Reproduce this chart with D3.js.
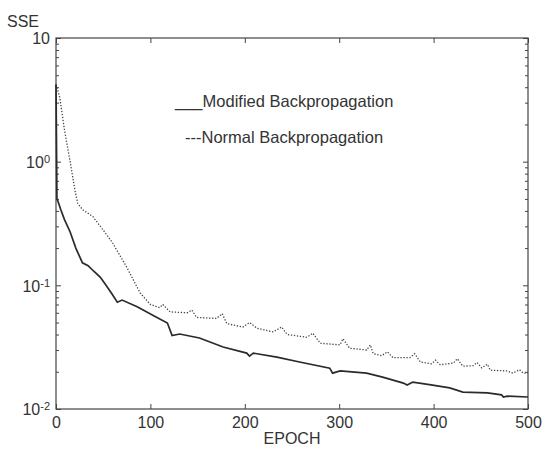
<!DOCTYPE html>
<html>
<head>
<meta charset="UTF-8">
<title>SSE vs EPOCH</title>
<script src="https://d3js.org/d3.v7.min.js"></script>
<style>
    body { margin: 0; background: #fff; }
    svg { display: block; font-family: Arial, "Liberation Sans", sans-serif; }
    text { fill: #333; }
</style>
</head>
<body>
<div id="chart"></div>
<script>
// datos
const modEpoch = [0, 1, 2, 5, 9, 15, 21, 28, 34, 40, 47, 53, 59, 65, 70, 86, 103, 118, 123, 131, 152, 177, 202, 205, 209, 234, 258, 290, 293, 301, 329, 346, 368, 372, 378, 399, 417, 431, 457, 472, 474, 478, 500];
const modSSE = [4.2, 0.5, 0.48, 0.41, 0.34, 0.27, 0.2, 0.152, 0.144, 0.13, 0.116, 0.1, 0.086, 0.073, 0.076, 0.067, 0.057, 0.0496, 0.0392, 0.0404, 0.0375, 0.0317, 0.0283, 0.0268, 0.0283, 0.0263, 0.024, 0.0214, 0.0195, 0.0203, 0.0195, 0.0181, 0.0162, 0.0156, 0.0165, 0.0156, 0.0148, 0.0137, 0.0135, 0.013, 0.0125, 0.0127, 0.0125];

const normEpoch = [0, 1, 4, 9, 15, 20, 23, 28, 39, 50, 60, 75, 89, 100, 110, 113, 121, 139, 144, 149, 170, 176, 181, 198, 205, 213, 230, 239, 245, 266, 272, 280, 301, 304, 311, 329, 333, 336, 345, 351, 357, 375, 380, 386, 398, 402, 407, 421, 425, 431, 442, 446, 451, 457, 460, 478, 484, 491, 495, 500];
const normSSE = [4.2, 4.0, 3.3, 1.8, 1.0, 0.59, 0.46, 0.41, 0.36, 0.28, 0.22, 0.14, 0.087, 0.07, 0.066, 0.07, 0.061, 0.06, 0.063, 0.055, 0.054, 0.059, 0.049, 0.046, 0.05, 0.045, 0.042, 0.046, 0.04, 0.038, 0.041, 0.034, 0.033, 0.037, 0.031, 0.03, 0.033, 0.028, 0.027, 0.029, 0.026, 0.026, 0.028, 0.024, 0.0232, 0.0248, 0.0228, 0.0235, 0.0255, 0.0222, 0.0224, 0.0238, 0.0215, 0.023, 0.0206, 0.0203, 0.0195, 0.0208, 0.0195, 0.0195];

const xTicks = [0, 100, 200, 300, 400, 500];
const yTicks = [0.01, 0.1, 1, 10];
const yTickExp = ["-2", "-1", "0", ""];
const legendLabels = ["___Modified Backpropagation", "---Normal Backpropagation"];

const width = 542, height = 453;
const margin = { top: 38, right: 14, bottom: 44, left: 56 };

const svg = d3.select("#chart").append("svg")
    .attr("width", width)
    .attr("height", height);

const x = d3.scaleLinear().domain([0, 500]).range([margin.left, width - margin.right]);
const y = d3.scaleLog().domain([0.01, 10]).range([height - margin.bottom, margin.top]);

// ticks menores del eje log
const minor = [];
[0.01, 0.1, 1].forEach(b => { for (let k = 2; k <= 9; k++) minor.push(b * k); });

const axisColor = "#444";

// eje x abajo
const gx = svg.append("g")
    .attr("transform", `translate(0,${y.range()[0]})`)
    .call(d3.axisBottom(x).tickValues(xTicks).tickSize(-5).tickPadding(8).tickSizeOuter(0));
gx.selectAll("text").attr("font-size", 16).attr("fill", "#333");

// eje x arriba (solo ticks)
svg.append("g")
    .attr("transform", `translate(0,${y.range()[1]})`)
    .call(d3.axisTop(x).tickValues(xTicks).tickSize(-5).tickFormat("").tickSizeOuter(0));

// eje y izquierda
const gy = svg.append("g")
    .attr("transform", `translate(${x.range()[0]},0)`)
    .call(d3.axisLeft(y).tickValues(yTicks).tickSize(-5).tickFormat("").tickSizeOuter(0));
gy.selectAll(".tick").each(function (d, i) {
    const t = d3.select(this).append("text")
        .attr("x", -6)
        .attr("dy", "0.36em")
        .attr("text-anchor", "end")
        .attr("font-size", 16)
        .attr("fill", "#333");
    t.append("tspan").text("10");
    if (yTickExp[i] !== "") {
        t.append("tspan").attr("dy", "-0.45em").attr("font-size", 11).text(yTickExp[i]);
    }
});
svg.append("g")
    .attr("transform", `translate(${x.range()[0]},0)`)
    .call(d3.axisLeft(y).tickValues(minor).tickSize(-3).tickFormat("").tickSizeOuter(0));

// eje y derecha
svg.append("g")
    .attr("transform", `translate(${x.range()[1]},0)`)
    .call(d3.axisRight(y).tickValues(yTicks).tickSize(-5).tickFormat("").tickSizeOuter(0));
svg.append("g")
    .attr("transform", `translate(${x.range()[1]},0)`)
    .call(d3.axisRight(y).tickValues(minor).tickSize(-3).tickFormat("").tickSizeOuter(0));

svg.selectAll(".domain").remove();
svg.selectAll(".tick line").attr("stroke", axisColor);

// marco
svg.append("rect")
    .attr("x", x.range()[0])
    .attr("y", y.range()[1])
    .attr("width", x.range()[1] - x.range()[0])
    .attr("height", y.range()[0] - y.range()[1])
    .attr("fill", "none")
    .attr("stroke", axisColor)
    .attr("stroke-width", 1.2);

const line = d3.line().x(d => x(d[0])).y(d => y(d[1]));

svg.append("path")
    .datum(normEpoch.map((e, i) => [e, normSSE[i]]))
    .attr("d", line)
    .attr("fill", "none")
    .attr("stroke", "#444")
    .attr("stroke-width", 1.3)
    .attr("stroke-dasharray", "1.3,1.7");

svg.append("path")
    .datum(modEpoch.map((e, i) => [e, modSSE[i]]))
    .attr("d", line)
    .attr("fill", "none")
    .attr("stroke", "#2a2a2a")
    .attr("stroke-width", 1.7);

// leyenda
svg.append("text").attr("x", 175).attr("y", 107).attr("font-size", 16.5).text(legendLabels[0]);
svg.append("text").attr("x", 185).attr("y", 143).attr("font-size", 16.5).text(legendLabels[1]);

// titulos de ejes
svg.append("text").attr("x", 7).attr("y", 27).attr("font-size", 16).text("SSE");
svg.append("text").attr("x", 292).attr("y", 444).attr("font-size", 16)
    .attr("text-anchor", "middle").text("EPOCH");
</script>
</body>
</html>
